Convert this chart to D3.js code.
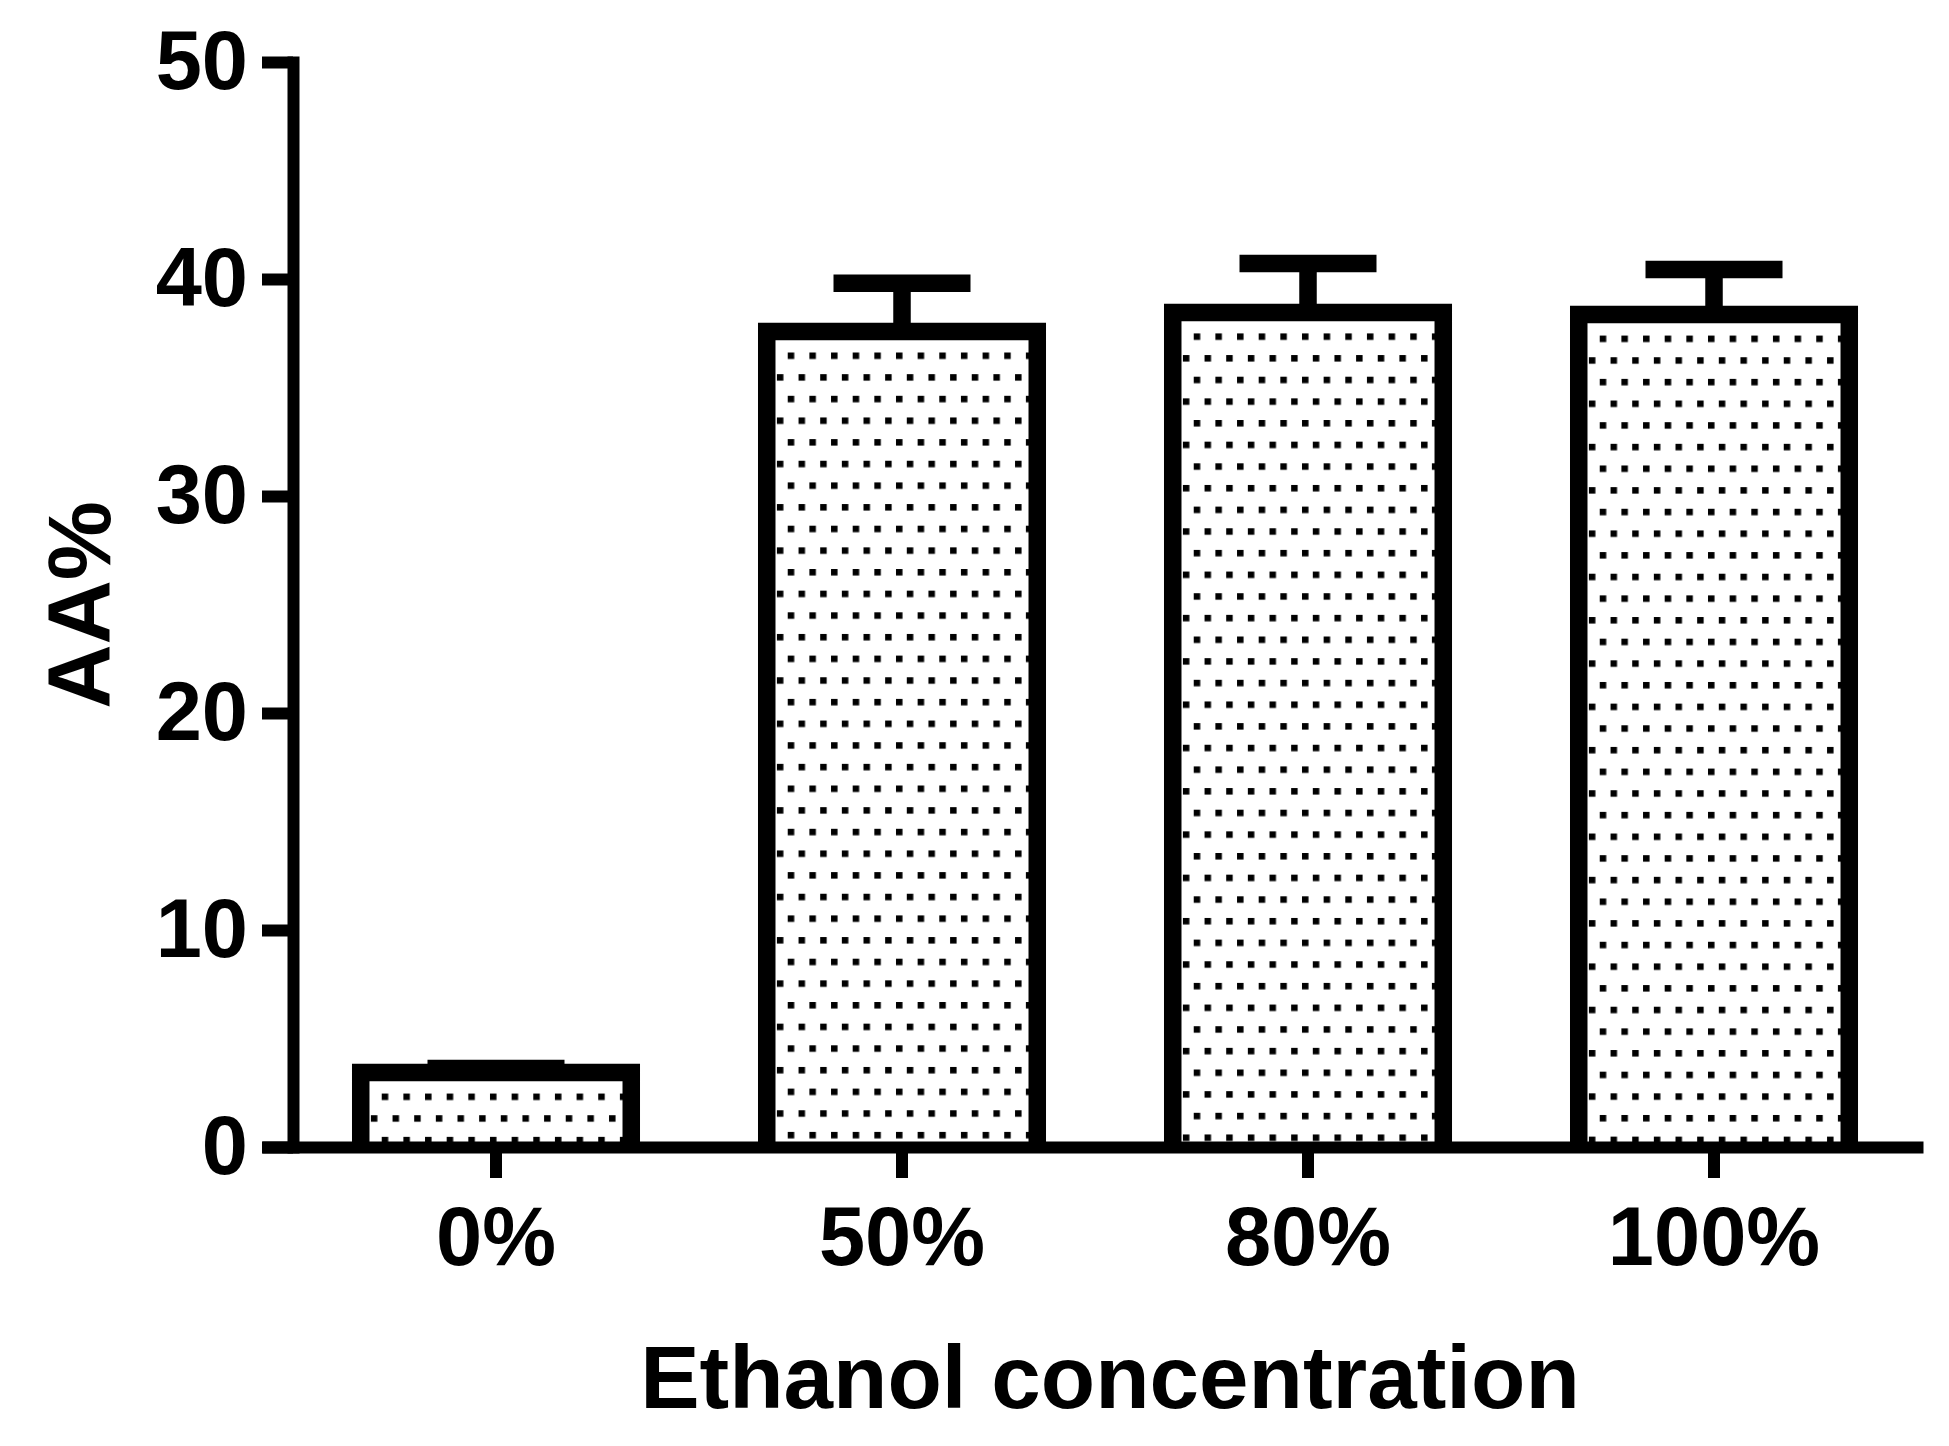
<!DOCTYPE html>
<html>
<head>
<meta charset="utf-8">
<script src="https://cdn.jsdelivr.net/npm/d3@7/dist/d3.min.js"></script>
<style>
  html, body { margin: 0; padding: 0; background: #fff; }
  text { font-family: "Liberation Sans", Arial, sans-serif; font-weight: bold; fill: #000; }
</style>
</head>
<body>
<script>
// values
const categories = ["0%", "50%", "80%", "100%"];
const means = [3.43, 37.58, 38.46, 38.36];
const sds = [0.19, 2.22, 2.25, 2.08];
const yTicks = [0, 10, 20, 30, 40, 50];

const w = 1949;
const h = 1446;

const data = categories.map((c, i) => ({ cat: c, mean: means[i], sd: sds[i], i: i }));

let svg = d3.select("body")
            .append("svg")
            .attr("width", w)
            .attr("height", h);

let x = d3.scaleBand()
          .domain(categories)
          .range([262, 1923])
          .paddingInner(0.3337)
          .paddingOuter(0.2124)
          .align(0.5725);

let y = d3.scaleLinear()
          .domain([0, 50])
          .range([1147, 62]);

const barStroke = 17.5;
const capW = 137;

// dotted fill, one pattern per bar so the dots start from each bar's corner
let defs = svg.append("defs");
let pats = defs.selectAll("pattern")
   .data(data)
   .enter()
   .append("pattern")
   .attr("id", d => "dots" + d.i)
   .attr("patternUnits", "userSpaceOnUse")
   .attr("width", 21.65)
   .attr("height", 43.3)
   .attr("x", d => x(d.cat) + 20)
   .attr("y", d => y(d.mean) + 20);
pats.append("rect").attr("x", 1).attr("y", 1).attr("width", 6.5).attr("height", 6.5).attr("fill", "#000");
pats.append("rect").attr("x", 11.8).attr("y", 22.65).attr("width", 6.5).attr("height", 6.5).attr("fill", "#000");

// bar fill
svg.selectAll("rect.fill")
   .data(data)
   .enter()
   .append("rect")
   .attr("class", "fill")
   .attr("x", d => x(d.cat))
   .attr("y", d => y(d.mean))
   .attr("width", x.bandwidth())
   .attr("height", d => y(0) - y(d.mean))
   .attr("fill", d => "url(#dots" + d.i + ")");

// error bars (upper only)
let err = svg.selectAll("g.err")
   .data(data)
   .enter()
   .append("g")
   .attr("class", "err")
   .attr("stroke", "#000")
   .attr("stroke-width", barStroke);
err.append("line")
   .attr("x1", d => x(d.cat) + x.bandwidth() / 2)
   .attr("x2", d => x(d.cat) + x.bandwidth() / 2)
   .attr("y1", d => y(d.mean))
   .attr("y2", d => y(d.mean + d.sd));
err.append("line")
   .attr("x1", d => x(d.cat) + x.bandwidth() / 2 - capW / 2)
   .attr("x2", d => x(d.cat) + x.bandwidth() / 2 + capW / 2)
   .attr("y1", d => y(d.mean + d.sd))
   .attr("y2", d => y(d.mean + d.sd));

// bar outline, open at the bottom
svg.selectAll("path.bar")
   .data(data)
   .enter()
   .append("path")
   .attr("class", "bar")
   .attr("fill", "none")
   .attr("stroke", "#000")
   .attr("stroke-width", barStroke)
   .attr("stroke-linejoin", "miter")
   .attr("d", d => {
       let l = x(d.cat), r = x(d.cat) + x.bandwidth();
       return "M" + l + "," + y(0) + "V" + y(d.mean) + "H" + r + "V" + y(0);
   });

// axes
let xAxis = svg.append("g")
   .attr("transform", "translate(0," + y(0) + ")")
   .call(d3.axisBottom(x).tickSize(31).tickSizeOuter(0));
xAxis.select(".domain").attr("stroke-width", 12).attr("stroke-linecap", "butt");
xAxis.selectAll(".tick line").attr("stroke-width", 12);
xAxis.selectAll(".tick text")
   .attr("y", 118)
   .attr("dy", 0)
   .attr("font-size", 83)
   .attr("font-family", null);

let yAxis = svg.append("g")
   .attr("transform", "translate(293,0)")
   .call(d3.axisLeft(y).tickValues(yTicks).tickSize(31).tickSizeOuter(0).tickPadding(14));
yAxis.select(".domain")
   .attr("stroke-width", 12)
   .attr("stroke-linecap", "square");
yAxis.selectAll(".tick line").attr("stroke-width", 12);
yAxis.selectAll(".tick text")
   .attr("font-size", 83)
   .attr("font-family", null);

// titles
svg.append("text")
   .attr("x", 1110)
   .attr("y", 1408)
   .attr("text-anchor", "middle")
   .attr("font-size", 89)
   .text("Ethanol concentration");

svg.append("text")
   .attr("transform", "translate(110,605) rotate(-90)")
   .attr("text-anchor", "middle")
   .attr("font-size", 89)
   .text("AA%");
</script>
</body>
</html>
